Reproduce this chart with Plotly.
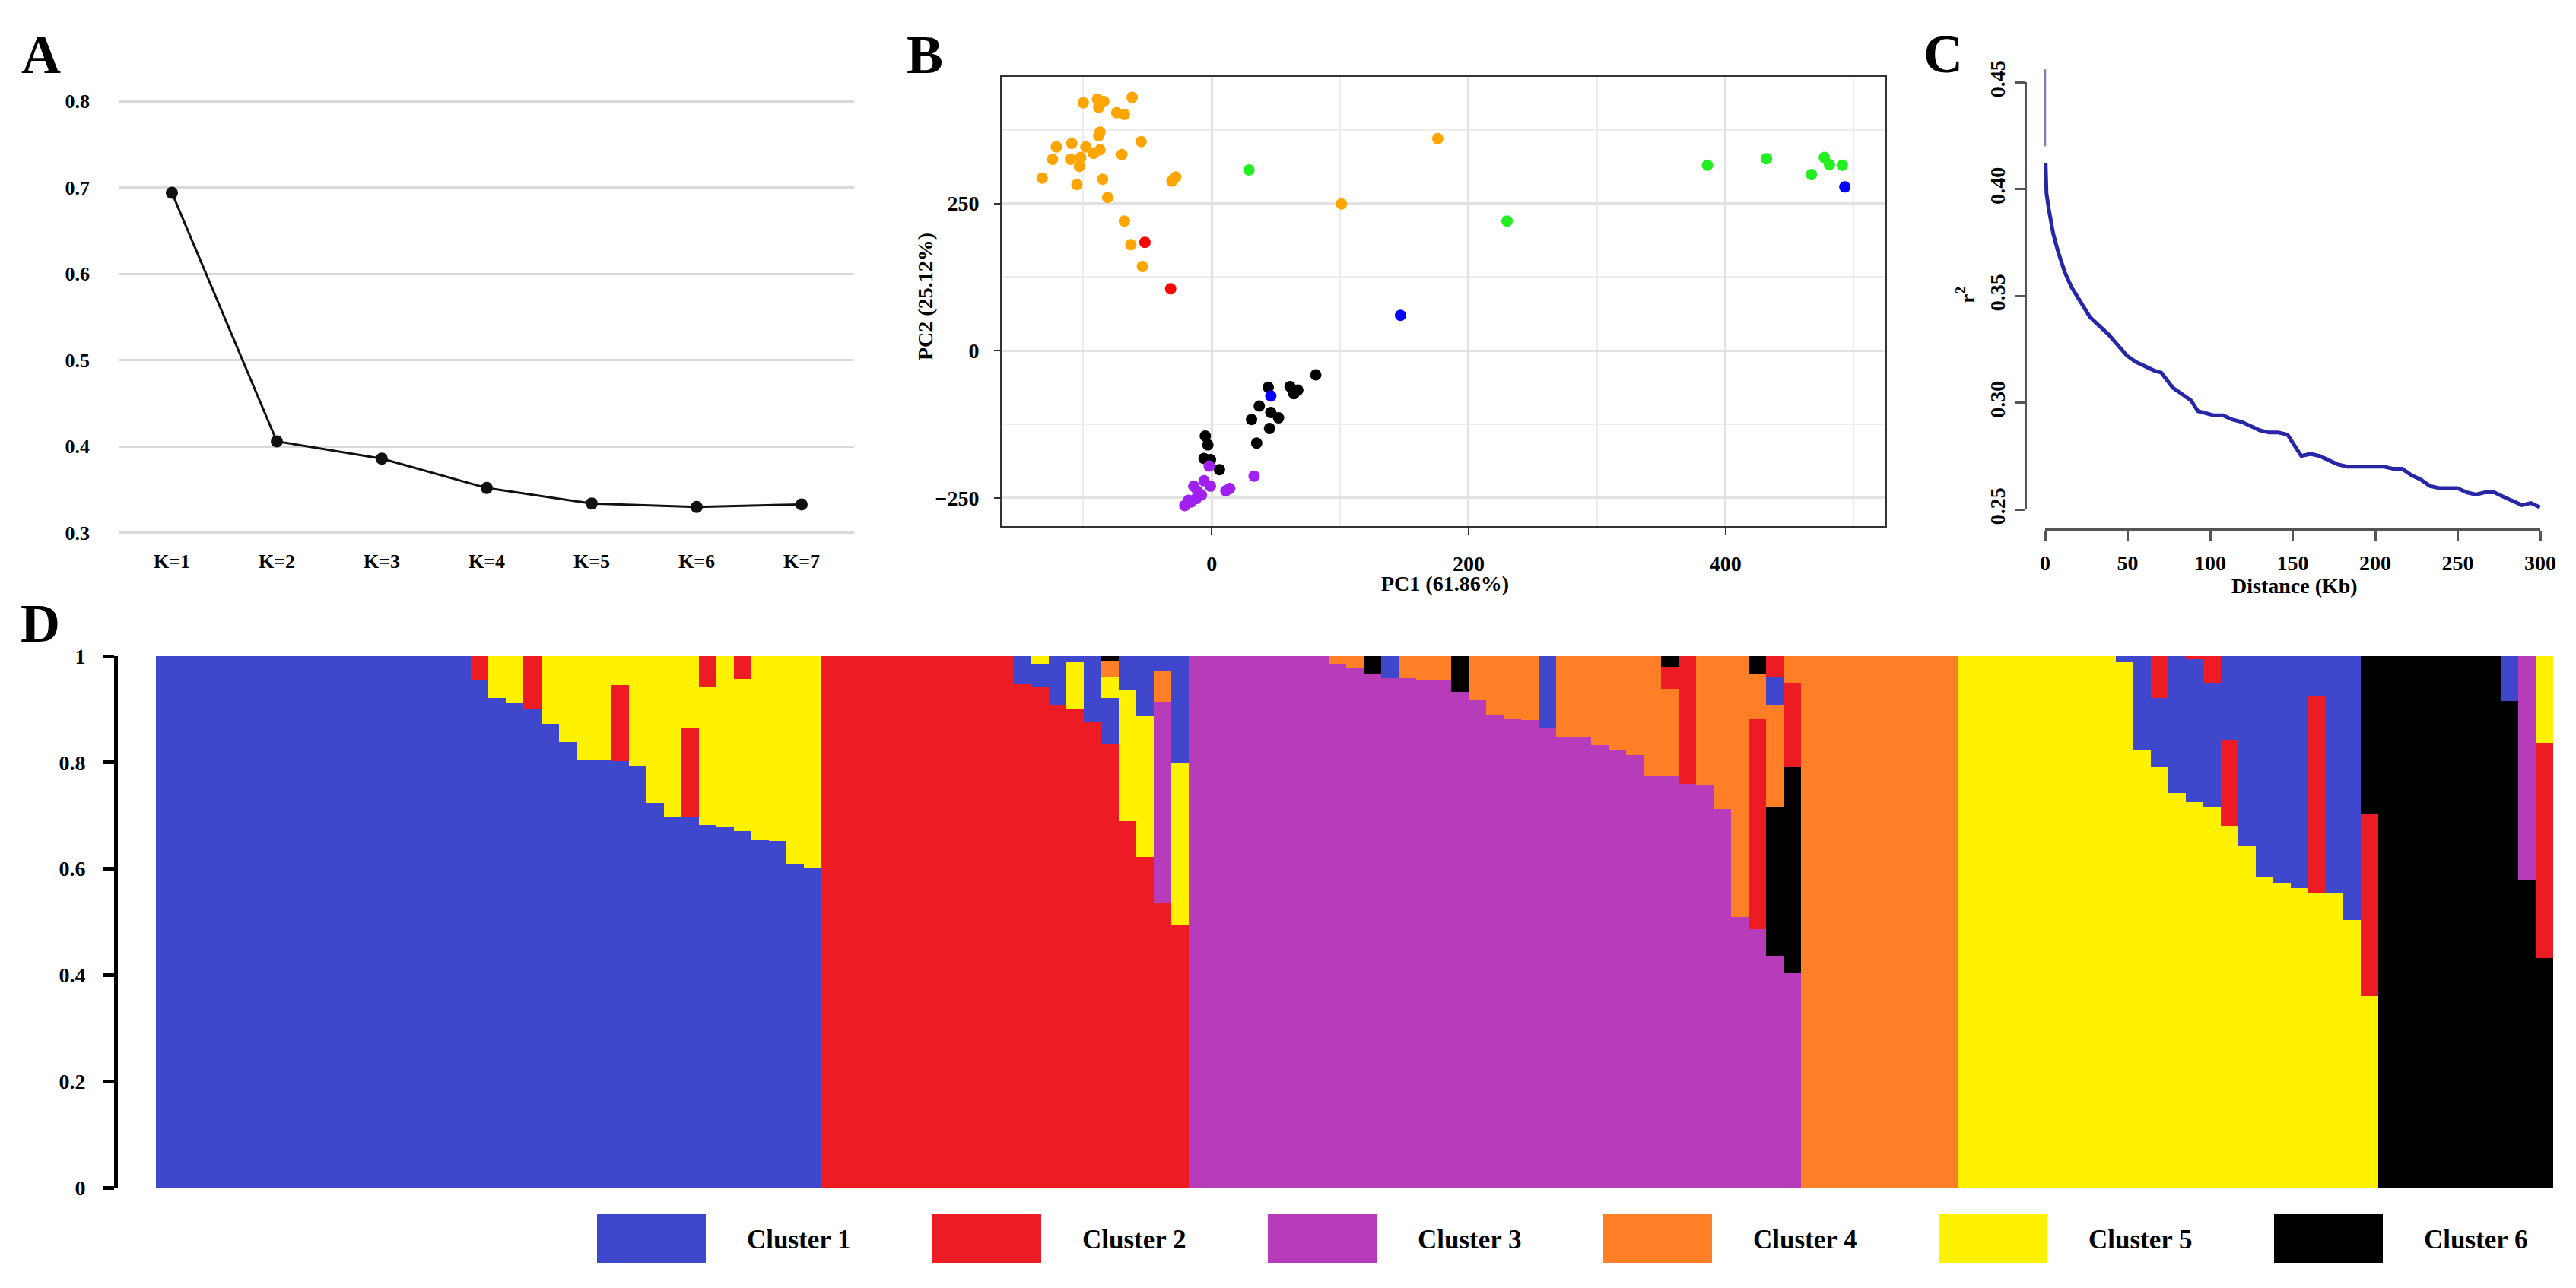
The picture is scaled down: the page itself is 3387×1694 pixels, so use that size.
import plotly.graph_objects as go

W, H = 3387, 1694
def px(x): return x / W
def py(y): return 1 - y / H

SERIF = "Liberation Serif"

# ---------------- Panel A: cross-validation error by K ----------------
k_labels = ["K=1", "K=2", "K=3", "K=4", "K=5", "K=6", "K=7"]
cv_error = [0.694, 0.406, 0.386, 0.352, 0.334, 0.330, 0.333]

# ---------------- Panel B: PCA ----------------
orange_pc1 = [-100, -89, -84, -88, -62, -74, -68, -87, -88, -55, -121, -109, -98, -87, -92, -124,
              -110, -102, -103, -70, -132, -105, -85, -81, -31, -28, -68, -63, -54, 101, 176]
orange_pc2 = [421, 427, 423, 413, 430, 404, 401, 371, 365, 355, 346, 352, 346, 341, 335, 325,
              325, 328, 313, 333, 293, 282, 291, 260, 288, 295, 220, 180, 143, 249, 360]
red_pc1 = [-52, -32]
red_pc2 = [184, 105]
green_pc1 = [29, 230, 386, 432, 467, 477, 481, 491]
green_pc2 = [307, 220, 315, 326, 299, 328, 316, 315]
black_pc1 = [81, 44, 61, 64, 67, 37, 46, 52, 31, 45, 35, -5, -3, -6, -1, 6]
black_pc2 = [-41, -62, -61, -73, -67, -94, -105, -114, -117, -132, -157, -145, -160, -183, -185, -202]
purple_pc1 = [-2, 33, 14, 11, -14, -11, -6, -1, -21, -18, -12, -8, -16]
purple_pc2 = [-196, -213, -234, -238, -230, -239, -221, -230, -263, -254, -251, -245, -257]
blue_pc1 = [147, 46, 493]
blue_pc2 = [60, -77, 278]

# ---------------- Panel C: LD decay ----------------
ld_top_dist = [0.0, 0.0]
ld_top_r2 = [0.456, 0.420]
ld_dist = [0.3, 0.8, 2.1, 4.9, 7.7, 11.9, 16, 21.6, 27.2, 32.7, 38.3, 43.9, 49.5, 55, 60.6, 66, 70.4,
           77.3, 82.9, 88.4, 92.6, 96.8, 102.3, 107.9, 113.5, 119, 124.6, 130.2, 135.7, 141.3, 146.9,
           151, 155.2, 160.8, 166.4, 171.9, 177.5, 183.1, 188.6, 194.2, 199.7, 205.3, 210.9, 216.4,
           222, 227.6, 233.1, 238.7, 244.2, 249.8, 255.4, 261, 266.5, 272.1, 277.6, 283.2, 288.8,
           294.3, 299.9]
ld_r2 = [0.412, 0.398, 0.391, 0.379, 0.371, 0.361, 0.354, 0.347, 0.340, 0.336, 0.332, 0.327, 0.322,
         0.319, 0.317, 0.315, 0.314, 0.307, 0.304, 0.301, 0.296, 0.295, 0.294, 0.294, 0.292, 0.291,
         0.289, 0.287, 0.286, 0.286, 0.285, 0.280, 0.275, 0.276, 0.275, 0.273, 0.271, 0.270, 0.270,
         0.270, 0.270, 0.270, 0.269, 0.269, 0.266, 0.264, 0.261, 0.260, 0.260, 0.260, 0.258, 0.257,
         0.258, 0.258, 0.256, 0.254, 0.252, 0.253, 0.251]

# ---------------- Panel D: admixture proportions (K=6), 137 individuals ----------------
cluster_names = ["Cluster 1", "Cluster 2", "Cluster 3", "Cluster 4", "Cluster 5", "Cluster 6"]
cluster_colors = ["#3F48CC", "#ED1C24", "#B63CB9", "#FF7F27", "#FFF200", "#000000"]

q1 = ([1.0] * 18 + [.956, .922, .913, .902, .872, .838, .806, .804, .802, .794, .724, .697, .697, .682,
                    .678, .671, .654, .652, .608, .601]
      + [0] * 11 + [.053, .043, .091, .012, .124, .086, .065, .113, .027, .201]
      + [0] * 11 + [.041] + [0] * 8 + [.136] + [0] * 12 + [.051, 0]
      + [0] * 9
      + [0] * 9 + [.012, .176, .130, .257, .270, .235, .158, .357, .416, .426, .436, .076, .446, .497, 0]
      + [0] * 7 + [.084, 0, 0])
q2 = ([0] * 18 + [.044, 0, 0, .098, 0, 0, 0, 0, .143, 0, 0, 0, .169, .058, 0, .043, 0, 0, 0, 0]
      + [1.0] * 11 + [.947, .942, .909, .902, .876, .835, .690, .623, .535, .494]
      + [0] * 8 + [0] * 19 + [.041, .240, 0, 0, 0, .394, .040, .159]
      + [0] * 9
      + [0] * 9 + [0, 0, .079, 0, .005, .050, .161, 0, 0, 0, 0, .370, 0, 0, .342]
      + [0] * 9 + [.405])
q3 = ([0] * 38
      + [0] * 19 + [.379, 0]
      + [1.0] * 8 + [.985, .977, .965, .959, .959, .955, .955, .933, .918, .890, .883, .880, .864, .849,
                     .849, .832, .824, .814, .776, .776, .760, .758, .712, .510, .487, .436, .403]
      + [0] * 9
      + [0] * 24
      + [0] * 8 + [.420, 0])
q4 = ([0] * 38
      + [0] * 16 + [.031, 0, 0, .059, 0]
      + [0] * 8 + [.015, .023, 0, 0, .041, .045, .045, 0, .082, .110, .117, .120, 0, .151, .151, .168,
                   .176, .186, .224, .163, 0, .242, .288, .490, .084, .194, .050]
      + [1.0] * 9
      + [0] * 24
      + [0] * 10)
q5 = ([0] * 18 + [0, .078, .087, 0, .128, .162, .194, .196, .055, .206, .276, .303, .134, .260, .322,
                  .286, .346, .348, .392, .399]
      + [0] * 11 + [0, .015, 0, .086, 0, .040, .245, .264, 0, .305]
      + [0] * 35
      + [0] * 9
      + [1.0] * 9 + [.988, .824, .791, .743, .725, .715, .681, .643, .584, .574, .564, .554, .554, .503, .360]
      + [0] * 9 + [.163])
q6 = ([0] * 38
      + [0] * 16 + [.008, 0, 0, 0, 0]
      + [0] * 8 + [0, 0, .035, 0, 0, 0, 0, .067] + [0] * 11 + [.020, 0, 0, 0, 0, .035, .279, .388]
      + [0] * 9
      + [0] * 23 + [.298]
      + [1.0] * 7 + [.916, .580, .432])

# stacking order of clusters in each bar, bottom -> top
stack_order = (["1"] * 18 + ["12", "15", "15", "12", "15", "15", "15", "15", "125", "15", "15", "15",
                             "125", "152", "15", "152", "15", "15", "15", "15"]
               + ["2"] * 11 + ["21", "215", "21", "251", "21", "21546", "251", "251", "2341", "251"]
               + ["3"] * 8 + ["34", "34", "36", "31", "34", "34", "34", "36", "34", "34", "34", "34", "31",
                              "34", "34", "34", "34", "34", "34", "3426", "32", "34", "34", "34", "3246",
                              "36412", "3624"]
               + ["4"] * 9
               + ["5"] * 9 + ["51", "51", "512", "51", "512", "512", "521", "51", "51", "51", "51", "521",
                              "51", "51", "526"]
               + ["6"] * 7 + ["61", "63", "625"])

fig = go.Figure()

# ---- Panel A
fig.add_trace(go.Scatter(x=k_labels, y=cv_error, mode="lines+markers",
                         line=dict(color="#111111", width=3), marker=dict(size=16, color="#111111"),
                         xaxis="x", yaxis="y", hoverinfo="skip"))

# ---- Panel B
for xs, ys, col in [(orange_pc1, orange_pc2, "#FFA500"), (red_pc1, red_pc2, "#FF0000"),
                    (green_pc1, green_pc2, "#22EE22"), (black_pc1, black_pc2, "#000000"),
                    (purple_pc1, purple_pc2, "#A020F0"), (blue_pc1, blue_pc2, "#0000FF")]:
    fig.add_trace(go.Scatter(x=xs, y=ys, mode="markers", marker=dict(size=15, color=col),
                             xaxis="x2", yaxis="y2", hoverinfo="skip"))

# ---- Panel C
fig.add_trace(go.Scatter(x=ld_top_dist, y=ld_top_r2, mode="lines", line=dict(color="#8A7CAA", width=2.5),
                         xaxis="x3", yaxis="y3", hoverinfo="skip"))
fig.add_trace(go.Scatter(x=ld_dist, y=ld_r2, mode="lines", line=dict(color="#2626A6", width=5),
                         xaxis="x3", yaxis="y3", hoverinfo="skip"))
fig.add_trace(go.Scatter(x=[0], y=[0.3], mode="markers", marker=dict(opacity=0), xaxis="x5", yaxis="y5",
                         hoverinfo="skip"))

# ---- Panel D
q = [q1, q2, q3, q4, q5, q6]
n_ind = len(stack_order)
n_levels = max(len(s) for s in stack_order)
for lev in range(n_levels):
    ys, cs = [], []
    for i in range(n_ind):
        if lev < len(stack_order[i]):
            k = int(stack_order[i][lev]) - 1
            ys.append(q[k][i])
            cs.append(cluster_colors[k])
        else:
            ys.append(0)
            cs.append(cluster_colors[0])
    fig.add_trace(go.Bar(x=list(range(n_ind)), y=ys, width=1.0, marker=dict(color=cs, line=dict(width=0)),
                         xaxis="x4", yaxis="y4", hoverinfo="skip"))

tf = lambda s: dict(family=SERIF, size=s, color="black", weight="bold")

layout = dict(
    width=W, height=H, margin=dict(l=0, r=0, t=0, b=0, autoexpand=False),
    paper_bgcolor="white", plot_bgcolor="rgba(0,0,0,0)",
    showlegend=False, barmode="stack", bargap=0, hovermode=False,
    # Panel A
    xaxis=dict(domain=[px(157), px(1123)], anchor="y", type="category", range=[-0.5, 6.5], showgrid=False,
               showline=False, zeroline=False, ticks="", tickfont=tf(26), ticklabelstandoff=18, automargin=False),
    yaxis=dict(domain=[py(702), py(132)], anchor="x", range=[0.299, 0.801], tickvals=[0.3, 0.4, 0.5, 0.6, 0.7, 0.8],
               ticktext=["0.3", "0.4", "0.5", "0.6", "0.7", "0.8"], showgrid=True, gridcolor="#D9D9D9",
               gridwidth=3, showline=False, zeroline=False, ticks="", tickfont=tf(26), ticklabelstandoff=38,
               automargin=False),
    # Panel B
    xaxis2=dict(domain=[px(1318), px(2478)], anchor="y2", range=[-163, 524], tickvals=[0, 200, 400],
                showgrid=True, gridcolor="#E2E2E2", gridwidth=2.5,
                minor=dict(tickvals=[-100, 100, 300, 500], showgrid=True, gridcolor="#EDEDED", gridwidth=1.5, ticks=""),
                showline=True, mirror=True, linecolor="#333333", linewidth=3, zeroline=False,
                ticks="outside", ticklen=8, tickwidth=2, tickcolor="#333333", tickfont=tf(28), ticklabelstandoff=14,
                automargin=False),
    yaxis2=dict(domain=[py(692), py(101)], anchor="x2", range=[-298, 465], tickvals=[-250, 0, 250],
                showgrid=True, gridcolor="#E2E2E2", gridwidth=2.5,
                minor=dict(tickvals=[-125, 125, 375], showgrid=True, gridcolor="#EDEDED", gridwidth=1.5, ticks=""),
                showline=True, mirror=True, linecolor="#333333", linewidth=3, zeroline=False,
                ticks="outside", ticklen=8, tickwidth=2, tickcolor="#333333", tickfont=tf(28), ticklabelstandoff=14,
                automargin=False),
    # Panel C data axes (hidden)
    xaxis3=dict(domain=[px(2663), px(3366)], anchor="y3", range=[-12, 312], visible=False),
    yaxis3=dict(domain=[py(694), py(84)], anchor="x3", range=[0.24146, 0.45854], visible=False),
    # Panel C drawn axes
    xaxis5=dict(domain=[px(2689), px(3340)], anchor="free", position=py(696), range=[0, 300],
                tickvals=[0, 50, 100, 150, 200, 250, 300], showline=True, linecolor="#555555", linewidth=2.5,
                ticks="outside", ticklen=13, tickwidth=2.5, tickcolor="#555555", showgrid=False, zeroline=False,
                tickfont=tf(28), ticklabelstandoff=6, automargin=False),
    yaxis5=dict(domain=[py(670), py(108)], anchor="free", position=px(2663), range=[0.25, 0.45],
                tickvals=[0.25, 0.30, 0.35, 0.40, 0.45], ticktext=["0.25", "0.30", "0.35", "0.40", "0.45"],
                tickangle=-90, showline=True, linecolor="#555555", linewidth=2.5, ticks="outside", ticklen=13,
                tickwidth=2.5, tickcolor="#555555", showgrid=False, zeroline=False, tickfont=tf(28),
                ticklabelstandoff=2, automargin=False),
    # Panel D
    xaxis4=dict(domain=[px(155), px(3357)], anchor="y4", range=[-2.691, n_ind - 0.5], visible=False),
    yaxis4=dict(domain=[py(1562), py(863)], anchor="x4", range=[0, 1], tickvals=[0, 0.2, 0.4, 0.6, 0.8, 1],
                ticktext=["0", "0.2", "0.4", "0.6", "0.8", "1"], showline=True, linecolor="black", linewidth=5,
                ticks="outside", ticklen=14, tickwidth=5, tickcolor="black", showgrid=False, zeroline=False,
                tickfont=tf(28), ticklabelstandoff=18, automargin=False),
)
fig.update_layout(**layout)

ann = []
def label(text, x, y, size, angle=0, xanchor="center"):
    ann.append(dict(text=text, x=px(x), y=py(y), xref="paper", yref="paper", showarrow=False,
                    xanchor=xanchor, yanchor="middle", textangle=angle, font=tf(size)))

# panel letters
label("A", 54, 72, 72)
label("B", 1216, 72, 72)
label("C", 2555, 71, 72)
label("D", 53, 820, 72)
# axis titles
label("PC1 (61.86%)", 1900, 768, 28)
label("PC2 (25.12%)", 1216, 390, 28, angle=-90)
label("r<sup>2</sup>", 2585, 388, 28, angle=-90)
label("Distance (Kb)", 3017, 770, 28)

# legend for panel D
shapes = []
for i, (name, col) in enumerate(zip(cluster_names, cluster_colors)):
    x0 = 785 + i * 441
    shapes.append(dict(type="rect", xref="paper", yref="paper", x0=px(x0), x1=px(x0 + 143),
                       y0=py(1661), y1=py(1597), fillcolor=col, line=dict(width=0)))
    label(name, x0 + 195, 1630, 35, xanchor="left")

fig.update_layout(annotations=ann, shapes=shapes)
fig.write_html("out.html")
